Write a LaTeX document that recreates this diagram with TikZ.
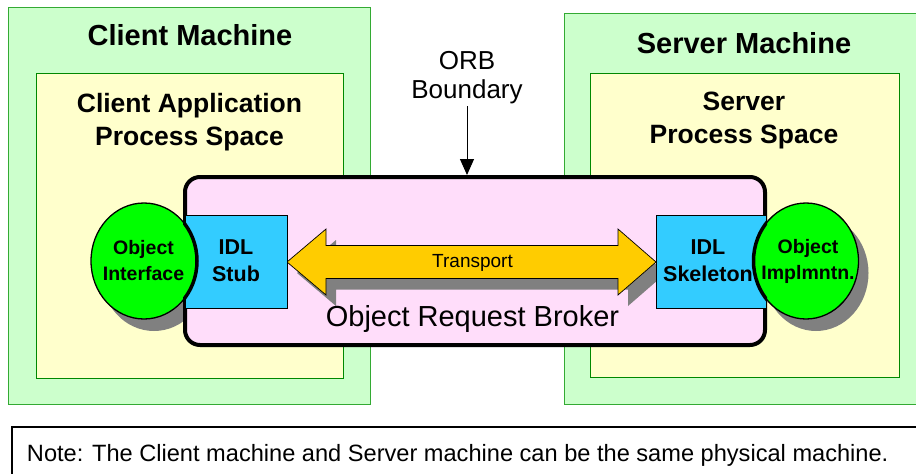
\documentclass[tikz,border=0pt]{standalone}
\usepackage{fontspec}
\setmainfont{Liberation Sans}
\usetikzlibrary{arrows.meta,shapes.geometric}

\definecolor{machinefill}{HTML}{CCFFCC}
\definecolor{machineline}{HTML}{33AA33}
\definecolor{procfill}{HTML}{FFFFCC}
\definecolor{procline}{HTML}{008800}
\definecolor{orbfill}{HTML}{FFDDFA}
\definecolor{idlfill}{HTML}{33CCFF}
\definecolor{objfill}{HTML}{00FF00}
\definecolor{transfill}{HTML}{FFCC00}
\definecolor{shadowgray}{HTML}{808080}

\begin{document}
\begin{tikzpicture}[x=1pt,y=-1pt,
  every node/.style={inner sep=0pt,outer sep=0pt},
  machine/.style={draw=machineline,fill=machinefill,line width=1pt},
  procspace/.style={draw=procline,fill=procfill,line width=1pt},
  title/.style={font=\bfseries\fontsize{29}{33}\selectfont,anchor=base},
  proctitle/.style={font=\bfseries\fontsize{26.5}{33}\selectfont,anchor=base},
  orbbox/.style={draw=black,fill=orbfill,line width=4pt,rounded corners=15pt},
  idlbox/.style={draw=black,fill=idlfill,line width=0.8pt},
  idltext/.style={font=\bfseries\fontsize{21.5}{27.5}\selectfont,align=center},
  objshape/.style={ellipse,draw=black,fill=objfill,line width=1.3pt},
  objtext/.style={font=\bfseries\fontsize{19.5}{25.5}\selectfont,align=center},
  objshadow/.style={fill=shadowgray},
  plain/.style={font=\fontsize{#1}{#1}\selectfont}
]
\clip (0,0) rectangle (916,474);
\fill[white] (0,0) rectangle (916,474);

% machines and process spaces
\node[machine,minimum width=362,minimum height=397] (clientm) at (189,205.5) {};
\node[procspace,minimum width=307,minimum height=305] (clientp) at (189.5,225.5) {};
\node[machine,minimum width=380,minimum height=391] (serverm) at (754,208.5) {};
\node[procspace,minimum width=309,minimum height=304] (serverp) at (744.5,225) {};

\node[title] (clienttitle) at (190,45) {Client Machine};
\node[proctitle] (clientp1) at (189.5,112) {Client Application};
\node[proctitle] (clientp2) at (189.5,145) {Process Space};
\node[title] (servertitle) at (744,53) {Server Machine};
\node[proctitle] (serverp1) at (744,110) {Server};
\node[proctitle] (serverp2) at (744,143) {Process Space};

% note
\node[draw=black,line width=1.2pt,minimum width=920,minimum height=70,anchor=north west] (notebox) at (12,427) {};
\node[plain=23.6,anchor=base west] (notetext) at (27,461) {Note: The Client machine and Server machine can be the same physical machine.};

% shadows of the object ellipses
\fill[objshadow] (154,273) ellipse [x radius=53,y radius=58];
\fill[objshadow] (816,273) ellipse [x radius=52.5,y radius=58];

% object request broker
\node[orbbox,minimum width=580,minimum height=168] (orb) at (475,261) {};

% transport double arrow with its shadow
\fill[shadowgray,shift={(10,11)}] (287,262) -- (326,229) -- (326,245.5) -- (618,245.5) -- (618,229)
  -- (656,262) -- (618,295) -- (618,278.5) -- (326,278.5) -- (326,295) -- cycle;
\draw[fill=transfill,line width=0.7pt] (287,262) -- (326,229) -- (326,245.5) -- (618,245.5) -- (618,229)
  -- (656,262) -- (618,295) -- (618,278.5) -- (326,278.5) -- (326,295) -- cycle;
\node[plain=19,anchor=base] (transport) at (472.5,267) {Transport};
\node[plain=29,anchor=base] (orbtext) at (472.5,326) {Object Request Broker};

% IDL stub and skeleton
\node[idlbox,minimum width=102,minimum height=93] (stub) at (236,261.5) {};
\node[idltext] (stubtext) at (236,260.5) {IDL\\Stub};
\node[idlbox,minimum width=110,minimum height=93] (skel) at (711,261.5) {};
\node[idltext] (skeltext) at (708,260.5) {IDL\\Skeleton};

% object ellipses
\node[objshape,minimum width=106,minimum height=116] (iface) at (144,261) {};
\node[objshape,minimum width=105,minimum height=116] (impl) at (806,261) {};
\begin{scope}
  \clip (183,175) rectangle (767,347);
  \draw[line width=3.5pt] (iface.center) ellipse [x radius=53,y radius=58];
  \draw[line width=3.5pt] (impl.center) ellipse [x radius=52.5,y radius=58];
\end{scope}
\node[objtext] (ifacetext) at (143.5,260.5) {Object\\Interface};
\node[objtext] (impltext) at (808,261.5) {Object\\Implmntn.};

% ORB boundary label and pointer
\node[plain=26,anchor=base] (orbb1) at (467,69) {ORB};
\node[plain=26,anchor=base] (orbb2) at (467,98) {Boundary};
\draw[line width=1pt,-{Triangle[width=14pt,length=16pt]},shorten <=3pt,shorten >=2pt]
  (orbb2.south) -- (orbb2.south |- orb.north);
\end{tikzpicture}
\end{document}
